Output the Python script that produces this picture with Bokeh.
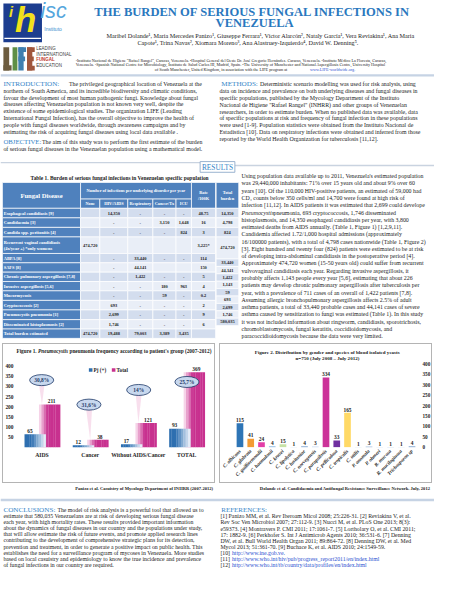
import math
from bokeh.plotting import figure
from bokeh.layouts import column, row
from bokeh.models import Range1d, LinearAxis, FixedTicker, ColumnDataSource
from bokeh.core.properties import value
from bokeh.embed import file_html
from bokeh.resources import INLINE

# ------------------------------------------------------------------ data (read from the poster)
pcp_groups = ["AIDS", "Cancer", "Without AIDS/Cancer", "TOTAL"]
pcp_positive = [65, 12, 17, 93]
pcp_total = [211, 38, 121, 369]
pcp_percent = ["30,8%", "31,6%", "14%", "25,7%"]
pcp_ticks = [0, 50, 100, 150, 200, 250, 300, 350, 400]

yeast_species = ["C. albicans", "C. glabrata", "C. guilliermondii", "C. haemulonii", "C. krusei",
                 "C. lipolytica", "C. lusitaniae", "C. norvegensis", "C. parapsilosis",
                 "C. pelliculosa", "C. tropicalis", "C. utilis", "P. anomala", "P. ohmeri",
                 "R. mucosa", "R. mucilaginosa", "Trichosporon sp"]
yeast_counts = [115, 41, 24, 4, 15, 1, 4, 3, 334, 33, 165, 1, 3, 1, 1, 1, 4]
yeast_ticks = [0, 50, 100, 150, 200, 250, 300, 350, 400]

tbl_disease = ["Esophageal candidiasis [9]", "Candidaemia [3]", "Candida spp. peritonitis [4]",
               "Recurrent vaginal candidiasis\n(4x/year +) *only womens", "ABPA [8]", "SAFS [8]",
               "Chronic pulmonary aspergillosis [7,8]", "Invasive aspergillosis [5,6]",
               "Mucormycosis", "Cryptococcosis [2]", "Pneumocystis pneumonia [1]",
               "Disseminated histoplasmosis [2]", "Total burden estimated"]
tbl_none = ["", "", "", "474,720", "", "", "", "", "", "", "", "", "474,720"]
tbl_hiv = ["14,350", "-", "-", "", "-", "-", "-", "-", "-", "693", "2,699", "1,746", "19,488"]
tbl_resp = ["-", "-", "-", "", "33,440", "44,141", "1,422", "-", "-", "-", "-", "-", "79,003"]
tbl_cancer = ["-", "3,150", "-", "", "-", "", "-", "180", "59", "-", "-", "-", "3,389"]
tbl_icu = ["-", "1,648", "824", "", "-", "", "-", "963", "-", "-", "-", "-", "3,435"]
tbl_rate = ["48.75", "16", "3", "3,225*", "114", "150", "5", "4", "0.2", "2", "9", "6", ""]
tbl_total = ["14,350", "4,798", "824", "474,720", "33,440", "44,141", "1,422", "1,143", "59",
             "693", "2,699", "1,746", "580,035"]
tbl_subheads = ["None", "HIV/AIDS", "Respiratory", "Cancer/Tx", "ICU"]

# ------------------------------------------------------------------ layout / style
W, H = 434, 584
SX, SY = W / 450.0, H / 600.0
FS = 0.966
SERIF = "Liberation Serif"
SANS = "Liberation Sans"
TXT = "#1b1b1b"
HEAD = "#3484c7"
TITLE_BLUE = "#2a78be"
TBL_BLUE = "#4f81bd"
BAND = ["#d3ddee", "#e9eef7"]
H_TOP, H_MID, H_BOT = 341, 144, 99
Y_MID = H_TOP / SY


def fsz(v):
    return f"{v * FS:.2f}px"


def panel(w, h, x0, y0):
    p = figure(width=w, height=h, x_range=Range1d(x0, x0 + w / SX), y_range=Range1d(y0 + h / SY, y0),
               min_border=0, x_axis_location=None, y_axis_location=None,
               output_backend="svg", toolbar_location=None)
    p.xgrid.visible = False
    p.ygrid.visible = False
    p.outline_line_color = None
    p.background_fill_color = "white"
    p.border_fill_color = "white"
    return p


def put(p, xs, ys, texts, size, color=TXT, style="normal", align="left", font=SERIF, baseline="middle"):
    src = ColumnDataSource(dict(x=list(xs), y=list(ys), t=list(texts)))
    p.text(x="x", y="y", text="t", source=src, text_font=value(font), text_font_size=value(fsz(size)),
           text_color=color, text_font_style=style, text_align=align, text_baseline=baseline,
           text_line_height=1.15)


def mix(c1, c2, t):
    a = [int(c1[i:i + 2], 16) for i in (1, 3, 5)]
    b = [int(c2[i:i + 2], 16) for i in (1, 3, 5)]
    return "#" + "".join(f"{round(x + (y - x) * t):02x}" for x, y in zip(a, b))


def lin(pa, va, pb, vb):
    k = (vb - va) / (pb - pa)
    return lambda q: va + (q - pa) * k


def axis_style(ax, size, style="bold", standoff=2):
    ax.axis_line_color = None
    ax.major_tick_line_color = None
    ax.minor_tick_line_color = None
    ax.major_tick_out = 0
    ax.major_tick_in = 0
    ax.minor_tick_out = 0
    ax.major_label_text_font = SERIF
    ax.major_label_text_font_size = fsz(size)
    ax.major_label_text_font_style = style
    ax.major_label_text_color = "#262626"
    ax.major_label_standoff = standoff
    return ax


# ------------------------------------------------------------------ texts
authors1 = ("Maribel Dolande\u00b9, Maria Mercedes Panizo\u00b9, Giuseppe Ferrara\u00b9, Victor Alarc\u00f3n\u00b2, "
            "Nataly Garc\u00eda\u00b9, Vera Reviakina\u00b9, Ana Maria")
authors2 = ("Capote\u00b9, Trina Navas\u00b2, Xiomara Moreno\u00b3, Ana Alastruey-Izquierdo\u2074, "
            "David W. Denning\u2075.")
affil = ["\u00b9Instituto Nacional de Higiene \"Rafael Rangel\", Caracas, Venezuela. \u00b2Hospital General del Oeste "
         "Dr. Jos\u00e9 Gregorio Hern\u00e1ndez. Caracas, Venezuela. \u00b3Instituto M\u00e9dico La Floresta, Caracas,",
         "Venezuela. \u2074Spanish National Centre for Microbiology, Instituto de Salud Carlos III, Madrid, Spain. "
         "\u2075The University of Manchester and National Aspergillosis Centre, University Hospital"]
affil3 = "of South Manchester, United Kingdom, in association with the LIFE program at"
affil_link = "www.LIFE-worldwide.org."

intro_first = "The privileged geographical location of Venezuela at the"
intro_lines = [
    "northern of South America, and its incredible biodiversity and climatic conditions,",
    "favour the development of most human pathogenic fungi. Knowledge about fungal",
    "diseases affecting Venezuelan population is not known very well, despite the",
    "existence of some epidemiological studies. The organization LIFE (Leading",
    "International Fungal Infection), has the overall objective to improve the health of",
    "people with fungal diseases worldwide, through awareness campaigns and by",
    "estimating the risk of acquiring fungal diseases using local data available .",
]
objective_first = "The aim of this study was to perform the first estimate of the burden"
objective_second = "of serious fungal diseases in the Venezuelan population using a mathematical model."

methods_first = "Deterministic scenario modelling was used for risk analysis, using"
methods_lines = [
    "data on incidence and prevalence on both underlying diseases and fungal diseases in",
    "specific populations, published by the Mycology Department of the Instituto",
    "Nacional de Higiene \"Rafael Rangel\" (INHRR) and other groups of Venezuelan",
    "researchers, in order to estimate burden. When no published data was available, data",
    "of specific populations at risk and frequency of fungal infection in these populations",
    "were used [1-9]. Population statistics were obtained from the Instituto Nacional de",
    "Estad\u00edstica [10]. Data on respiratory infections were obtained and inferred from those",
    "reported by the World Health Organization  for tuberculosis [11,12].",
]

results_lines = [
    "Using population data available up to 2011, Venezuela's estimated population",
    "was 29,440,000 inhabitants: 71% over 15 years old and about 9% over 60",
    "years [10]. Of the 110,000 HIV-positive patients, an estimated of 59,000 had",
    "CD\u2084 counts below 350 cells/ml and 14,700 were found at high risk of",
    "infection [11,12]. In AIDS patients it was estimated that 2,699 could develope",
    None,
    "histoplasmosis, and 14,350 esophageal candidiasis per year, with 3,800",
    "estimated deaths from AIDS annually. (Table 1, Figure 1) [1,2,9,11].",
    "Candidemia affected 1.72/1,000 hospital admissions (approximately",
    "16/100000 patients), with a total of 4,798 cases nationwide (Table 1, Figure 2)",
    "[3]. Eight hundred and twenty four (824) patients were estimated to be at risk",
    "of developing intra-abdominal candidiasis in the postoperative period [4].",
    "Approximately  474,720 women (15-50 years old) could suffer from recurrent",
    "vulvovaginal candidiasis each year. Regarding invasive aspergillosis, it",
    "probably affects 1,143 people every year [5,6], estimating that about 226",
    "patients may develop chronic pulmonary aspergillosis after tuberculosis per",
    "year, with a prevalence of 711 cases of an overall of 1,422 patients [7,8].",
    "Assuming allergic bronchopulmonary aspergillosis affects 2.5% of adult",
    "asthma patients, a total of 33,440 probable cases and 44,141 cases of severe",
    "asthma caused by sensitization to fungi was estimated (Table 1). In this study",
    "it was not included information about ringworm, candidiasis, sporotrichosis,",
    "chromoblastomycosis,    fungal keratitis,    coccidioidomycosis,    and",
    "paracoccidioidomycosis because the data were very limited.",
]
results_l6_italic = "Pneumocystis"
results_l6_rest = "pneumonia,   693   cryptococcosis,   1,746   disseminated"

concl_first = "The model of risk analysis is a powerful tool that allowed us to"
concl_lines = [
    "estimate that 580,035 Venezuelans are at risk of developing serious fungal disease",
    "each year, with high mortality rates. These results provided important information",
    "about the dynamics of fungal diseases in our country and the populations under study,",
    "that will allow estimate the risk of future events, and promote applied research lines",
    "contributing to the development of comprehensive strategic plans for its detection,",
    "prevention and treatment, in order to generate a positive impact on public health. This",
    "establishes the need for a surveillance program of mycoses in Venezuela. More studies",
    "based on local casuistry and epidemiology to know the true incidence and prevalence",
    "of fungal infections in our country are required.",
]
ref_lines = [
    "[1] Panizo MM, et al. Rev Iberoam Micol 2008; 25:226-31. [2] Reviakina V, et al.",
    "Rev Soc Ven Microbiol 2007; 27:112-9. [3] Nucci M, et al. PLoS One 2013; 8(3):",
    "e59373. [4] Montravers P. CMI 2011; 17:1061-7. [5] Lortholary O, et al. CMI 2011;",
    "17: 1882-9. [6] Perkhofer S. Int J Antimicrob Agents 2010; 36:531-6. [7] Denning",
    "DW, et al. Bull World Health Organ 2011; 89:864-72. [8] Denning DW, et al. Med",
    "Mycol 2013; 51:361-70. [9] Buchace K, et al. AIDS 2010; 24:1549-59.",
]
ref_links = ["http://www.ine.gob.ve.",
             "http://www.who.int/hiv/pub/progress_report2011/en/index.html",
             "http://www.who.int/tb/country/data/profiles/en/index.html"]

# ================================================================== top panel
top = panel(W, H_TOP, 0, 0)

# logos
top.quad(left=[3], right=[43], top=[3], bottom=[43], fill_color="#1c3d8f", line_color=None)
top.quad(left=[4], right=[42], top=[38.2], bottom=[39.6], fill_color="#ffffff", line_color=None)
put(top, [26], [20], ["h"], 36, "#f2e11c", "bold italic", "center", SANS)
put(top, [11], [12], ["i"], 15, "#f2e11c", "bold italic", "center", SANS)
put(top, [55], [11], ["isc"], 22, "#55a6dd", "italic", "center", SANS)
put(top, [54.5], [29.3, 34.3, 39.3], ["Instituto", "de Salud", "Carlos III"], 5.2, "#3b8ed0", "normal", "center", SANS)
life = [(3, 9, 48, 72, "#6d5c3f"), (3, 11.5, 66.5, 72, "#6d5c3f"),
        (12.5, 17.5, 48, 72, "#5f8f46"),
        (18.5, 24, 48, 72, "#3f7fb0"), (18.5, 26.5, 48, 53, "#3f7fb0"), (18.5, 25.5, 57.5, 62.5, "#3f7fb0"),
        (27.5, 33, 48, 72, "#a0563c"), (27.5, 35.5, 48, 53, "#a0563c"), (27.5, 34.5, 57.5, 62.5, "#a0563c"),
        (27.5, 35.5, 67, 72, "#a0563c")]
top.quad(left=[q[0] for q in life], right=[q[1] for q in life], top=[q[2] for q in life],
         bottom=[q[3] for q in life], fill_color=[q[4] for q in life], line_color=None)
put(top, [37, 37, 37], [49.5, 55.2, 66.6], ["LEADING", "INTERNATIONAL", "EDUCATION"], 4.6, "#404040", "normal", "left", SANS)
put(top, [37], [60.9], ["FUNGAL"], 4.6, "#c0392b", "bold", "left", SANS)

# title, authors, affiliations
put(top, [261], [12], ["THE BURDEN OF SERIOUS FUNGAL INFECTIONS IN"], 13, TITLE_BLUE, "bold", "center")
put(top, [263.5], [23.5], ["VENEZUELA"], 13, TITLE_BLUE, "bold", "center")
put(top, [270], [36], [authors1], 6.4, TXT, "normal", "center")
put(top, [257], [43.3], [authors2], 6.4, TXT, "normal", "center")
put(top, [78, 78], [61.8, 66.2], affil, 4.3, TXT)
put(top, [160], [70.6], [affil3], 4.3, TXT)
put(top, [321], [70.6], [affil_link], 4.3, "#2a4fd0")
top.quad(left=[0], right=[450], top=[75.8], bottom=[78.2], fill_color="#c6d3e4", line_color=None)

# introduction / objective
put(top, [3], [85.5], ["INTRODUCTION:"], 7.4, HEAD)
put(top, [71], [85.7], [intro_first], 6.1)
put(top, [3] * len(intro_lines), [92.6 + 7.1 * i for i in range(len(intro_lines))], intro_lines, 6.1)
put(top, [3], [145], ["OBJECTIVE:"], 7.0, HEAD)
put(top, [43], [145.2], [objective_first], 6.1)
put(top, [3], [152.3], [objective_second], 6.1)

# methods
put(top, [229], [85.5], ["METHODS:"], 7.4, HEAD)
put(top, [269], [85.7], [methods_first], 6.1)
put(top, [227] * len(methods_lines), [93.0 + 7.05 * i for i in range(len(methods_lines))], methods_lines, 6.1)

# RESULTS heading
top.segment(x0=[0, 243], y0=[166.5, 169.5], x1=[207, 450], y1=[166.5, 169.5], line_color="#c9d3e0", line_width=1.3)
top.quad(left=[207], right=[243], top=[165.5], bottom=[176.5], fill_color="white", line_color="#8faacb", line_width=0.9)
put(top, [225], [171.2], ["RESULTS"], 7.6, HEAD, "normal", "center")

# table
put(top, [123.5], [182.6], ["Table 1. Burden of serious fungal infections in Venezuelan specific population"], 5.6, TXT, "bold", "center")
T_X = [2, 83, 103, 132, 158, 182, 198, 223]
T_TOT = (223.6, 247)
T_TOP, T_H1, T_H2 = 187, 204, 213.5
T_ROWH = [9.8, 9.8, 9.8, 17, 9.6, 9.6, 9.6, 9.6, 9.8, 9.8, 10, 9.6, 9.6]
T_TOT_ROWH = [9.8, 9.8, 9.8, 22.7, 7.6, 7.6, 7.6, 7.6, 7.6, 7.6, 7.6, 7.6, 7.6]
cl, cr, ct, cb, cc = [], [], [], [], []


def cell(l, r, t, b, c):
    cl.append(l); cr.append(r); ct.append(t); cb.append(b); cc.append(c)


cell(T_X[0], T_X[1], T_TOP, T_H2, TBL_BLUE)
cell(T_X[1], T_X[6], T_TOP, T_H1, TBL_BLUE)
for c in range(1, 6):
    cell(T_X[c], T_X[c + 1], T_H1, T_H2, TBL_BLUE)
cell(T_X[6], T_X[7], T_TOP, T_H2, TBL_BLUE)
cell(T_TOT[0], T_TOT[1], T_TOP, T_H2, TBL_BLUE)
row_mid = []
yy = T_H2
for r, h in enumerate(T_ROWH):
    cell(T_X[0], T_X[1], yy, yy + h, TBL_BLUE)
    for c in range(1, 7):
        cell(T_X[c], T_X[c + 1], yy, yy + h, BAND[r % 2])
    row_mid.append(yy + h / 2)
    yy += h
tot_mid = []
yy = T_H2
for r, h in enumerate(T_TOT_ROWH):
    cell(T_TOT[0], T_TOT[1], yy, yy + h, BAND[r % 2])
    tot_mid.append(yy + h / 2)
    yy += h
top.quad(left=cl, right=cr, top=ct, bottom=cb, fill_color=cc, line_color="white", line_width=0.7)

put(top, [T_X[0] + 1.3] * len(tbl_disease), row_mid, tbl_disease, 4.6, "white", "bold")
for col, vals in enumerate([tbl_none, tbl_hiv, tbl_resp, tbl_cancer, tbl_icu, tbl_rate]):
    xc = (T_X[col + 1] + T_X[col + 2]) / 2
    put(top, [xc] * len(vals), row_mid, vals, 4.6, "#222222", "bold", "center")
put(top, [(T_TOT[0] + T_TOT[1]) / 2] * len(tbl_total), tot_mid, tbl_total, 4.6, "#222222", "bold", "center")
put(top, [(T_X[0] + T_X[1]) / 2], [200], ["Fungal Disease"], 6.8, "white", "bold", "center")
put(top, [(T_X[1] + T_X[6]) / 2], [195.5], ["Number of infections per underlying disorder per year"], 4.4, "white", "bold", "center")
put(top, [(T_X[c] + T_X[c + 1]) / 2 for c in range(1, 6)], [208.8] * 5, tbl_subheads, 4.4, "white", "bold", "center")
put(top, [(T_X[6] + T_X[7]) / 2], [200], ["Rate\n/100K"], 4.5, "white", "bold", "center")
put(top, [(T_TOT[0] + T_TOT[1]) / 2], [200], ["Total\nburden"], 4.5, "white", "bold", "center")

# results text
ry = [180.5 + 7.47 * i for i in range(len(results_lines))]
put(top, [250] * (len(results_lines) - 1), [y for y, t in zip(ry, results_lines) if t], [t for t in results_lines if t], 6.1)
put(top, [250], [ry[5]], [results_l6_italic], 6.1, TXT, "italic")
put(top, [283], [ry[5]], [results_l6_rest], 6.1)


# ================================================================== chart figures
def chart(x0, xmap, ymap, fl, fr, ft, fb):
    """fl, fr, ft, fb: plot-area edges in poster pixels; the box around the chart is drawn with CSS."""
    mbl = round((fl - x0) * SX)
    mbr = 217 - round((fr - x0) * SX)
    mbt = round((ft - Y_MID) * SY)
    mbb = H_MID - round((fb - Y_MID) * SY)
    px0, px1 = x0 + mbl / SX, x0 + (217 - mbr) / SX
    py0, py1 = Y_MID + mbt / SY, Y_MID + (H_MID - mbb) / SY
    p = figure(width=217, height=H_MID, x_range=Range1d(xmap(px0), xmap(px1)),
               y_range=Range1d(ymap(py1), ymap(py0)), x_axis_location=None, y_axis_location=None,
               min_border_left=mbl, min_border_right=mbr, min_border_top=mbt, min_border_bottom=mbb,
               output_backend="svg", toolbar_location=None,
               styles={"outline": "1px solid #b4b4b4", "outline-offset": "-3px"})
    p.xgrid.visible = False
    p.ygrid.visible = False
    p.outline_line_color = None
    p.background_fill_alpha = 0
    p.border_fill_alpha = 0
    return p


# ---------------- figure 1 (Pneumocystis)
x1m = lin(43, 0, 193, 3)
y1m = lin(482, 0, 380, 400)
f1 = chart(0, x1m, y1m, 16, 221, 354.5, 482)
gi = list(range(len(pcp_groups)))

ell_px = [(42.7, 397.7), (91.7, 428.3), (143.3, 410), (193.3, 400)]   # callout placement (poster px)
ex = [x1m(a) for a, b in ell_px]
ey = [y1m(b) for a, b in ell_px]
f1.patches(xs=[[e - 0.07, e + 0.07, i + 0.0] for e, i in zip(ex, gi)],
           ys=[[v, v, t] for v, t in zip(ey, pcp_total)],
           fill_color="#f3c4de", fill_alpha=0.55, line_color=None)

NS = 9
BW = 0.44
for k in range(NS):
    t = k / (NS - 1)
    f1.vbar(x=[i - 0.06 + BW * (k + 0.5) / NS for i in gi], top=pcp_total, bottom=0, width=BW / NS * 1.08,
            fill_color=mix("#f6d3e8", "#c8318f", min(1.0, t / 0.4)), line_color=None)
for k in range(NS):
    t = k / (NS - 1)
    f1.vbar(x=[i - 0.36 + BW * (k + 0.5) / NS for i in gi], top=pcp_positive, bottom=0, width=BW / NS * 1.08,
            fill_color=mix("#2e6fb0", "#e3edf8", max(0.0, (t - 0.3) / 0.7)), line_color=None)

put(f1, [i - 0.25 for i in gi], [v + 6 for v in pcp_positive], [str(v) for v in pcp_positive], 5.6, "#222222", "bold", "center", SERIF, "bottom")
put(f1, [i + 0.2 for i in gi], [v + 6 for v in pcp_total], [str(v) for v in pcp_total], 5.6, "#222222", "bold", "center", SERIF, "bottom")
f1.ellipse(x=ex, y=ey, width=0.5, height=54, fill_color="#c8d8ee", line_color="#1f3a68", line_width=0.8)
put(f1, ex, ey, pcp_percent, 5.6, "#1f3a68", "bold", "center")

f1.scatter(x=[x1m(93.5), x1m(117.3)], y=[y1m(385)] * 2, marker="square", size=3.6,
           fill_color=["#2e6fb0", "#c8318f"], line_color=None)
put(f1, [x1m(96.5), x1m(120.3)], [y1m(385)] * 2, ["Pj (+)", "Total"], 5.4, "#222222", "bold")

put(f1, [x1m(16.5)], [y1m(361.8)], ["Figure 1."], 5.5, "#222222", "bold")
put(f1, [x1m(39)], [y1m(361.8)], ["Pneumocystis"], 5.5, "#222222", "bold italic")
put(f1, [x1m(71.5)], [y1m(361.8)], ["pneumonia frequency according to patient's group  (2007-2012)"], 5.5, "#222222", "bold")

ya1 = axis_style(LinearAxis(ticker=FixedTicker(ticks=pcp_ticks)), 5.6, standoff=2)
f1.add_layout(ya1, "left")
xa1 = axis_style(LinearAxis(ticker=FixedTicker(ticks=gi),
                            major_label_overrides={i: g for i, g in zip(gi, pcp_groups)}), 5.9, standoff=4)
f1.add_layout(xa1, "below")

# ---------------- figure 2 (yeasts)
x2m = lin(248.3, 0, 426.7, 16)
y2m = lin(459, 0, 373.3, 400)
f2 = chart(225, x2m, y2m, 228.5, 436, 354.5, 459)
si = list(range(len(yeast_species)))
yeast_colors = ["#2e75b6", "#f39b34", "#e23fa8", "#5b9bd5", "#c7e2a6", "#9dc3e6", "#4f81bd", "#8eb4e3",
                "#cc3399", "#7030a0", "#ffd966", "#9dc3e6", "#4f81bd", "#8eb4e3", "#5b9bd5", "#9dc3e6",
                "#4f81bd"]
f2.vbar(x=si, top=yeast_counts, bottom=0, width=0.62, fill_color=yeast_colors, line_color=None)
put(f2, si, [v + 6 for v in yeast_counts], [str(v) for v in yeast_counts], 5.6, "#222222", "bold", "center", SERIF, "bottom")
put(f2, [x2m(339.5)], [y2m(361.6)], ["Figure 2.  Distribution by gender and species of blood isolated yeasts"], 5.2, "#222222", "bold", "center")
put(f2, [x2m(339)], [y2m(367.6)], ["n=750 (July 2008 \u2013 July 2012)"], 5.2, "#222222", "bold", "center")
ya2 = axis_style(LinearAxis(ticker=FixedTicker(ticks=yeast_ticks)), 5.4, standoff=2)
f2.add_layout(ya2, "right")
xa2 = axis_style(LinearAxis(ticker=FixedTicker(ticks=si),
                            major_label_overrides={i: s for i, s in zip(si, yeast_species)},
                            major_label_orientation=math.pi / 4), 5.2, "bold italic", standoff=3)
f2.add_layout(xa2, "below")

# ================================================================== bottom panel
bot = panel(W, H_BOT, 0, (H_TOP + H_MID) / SY)
put(bot, [221.5], [501.6], ["Panizo et al. Casuistry of  Mycology Department of INHRR (2007-2012)"], 4.7, "#222222", "bold", "right")
put(bot, [445.5], [501], ["Dolande et al. Candidaemia and Antifungal Resistance Surveillance Network. July, 2012"], 4.7, "#222222", "bold", "right")
bot.quad(left=[0], right=[450], top=[512], bottom=[514.4], fill_color="#c6d3e4", line_color=None)
put(bot, [3], [523], ["CONCLUSIONS:"], 7.4, HEAD)
put(bot, [59], [523.2], [concl_first], 6.0)
put(bot, [3] * len(concl_lines), [529.4 + 6.33 * i for i in range(len(concl_lines))], concl_lines, 6.0)
put(bot, [229], [523], ["REFERENCES:"], 7.2, HEAD)
put(bot, [228] * len(ref_lines), [530 + 6.25 * i for i in range(len(ref_lines))], ref_lines, 6.0)
put(bot, [228] * 3, [530 + 6.25 * (len(ref_lines) + i) for i in range(3)], ["[10]", "[11]", "[12]"], 6.0)
put(bot, [240] * 3, [530 + 6.25 * (len(ref_lines) + i) for i in range(3)], ref_links, 6.0, "#2a4fd0")

layout = column(top, row(f1, f2, spacing=0), bot, spacing=0)
open("out.html", "w").write(file_html(layout, INLINE))
